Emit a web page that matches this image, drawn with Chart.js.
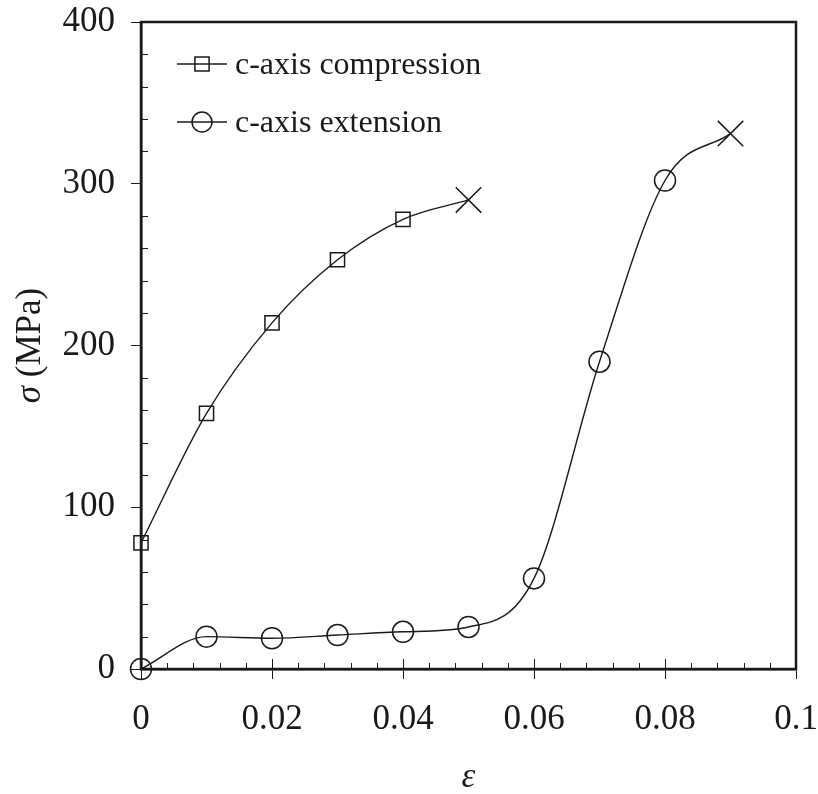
<!DOCTYPE html>
<html>
<head>
<meta charset="utf-8">
<script src="https://cdn.jsdelivr.net/npm/chart.js@4/dist/chart.umd.min.js"></script>
<style>
  html, body { margin: 0; padding: 0; background: #fff; }
  canvas { display: block; }
</style>
</head>
<body>
<canvas id="stressChart" width="818" height="794"></canvas>
<script>
// ========= DATA =========
const compressionStrain = [0, 0.01, 0.02, 0.03, 0.04, 0.05];
const compressionStress = [78, 158, 214, 253, 278, 290];

const extensionStrain = [0, 0.01, 0.02, 0.03, 0.04, 0.05, 0.06, 0.07, 0.08, 0.09];
const extensionStress = [0, 20, 19, 21, 23, 26, 56, 190, 302, 331];

const seriesLabels = ['c-axis compression', 'c-axis extension'];
const xTicks = [0, 0.02, 0.04, 0.06, 0.08, 0.1];
const yTicks = [0, 100, 200, 300, 400];

const INK = '#1a1a1a';
const SERIF = "'Liberation Serif', 'Times New Roman', serif";

// ========= HELPERS =========
function toPoints(xs, ys) {
    return xs.map((x, i) => ({ x, y: ys[i] }));
}

// last point of each curve is the failure mark (X)
function markerStyle(style) {
    return ctx => ctx.dataIndex === ctx.dataset.data.length - 1 ? 'crossRot' : style;
}
function markerRadius(r) {
    return ctx => ctx.dataIndex === ctx.dataset.data.length - 1 ? 18 : r;
}

function lineSeries(label, points, style, r) {
    return {
        label,
        data: points,
        borderColor: INK,
        borderWidth: 1.4,
        backgroundColor: 'rgba(0,0,0,0)',
        pointStyle: markerStyle(style),
        pointRadius: markerRadius(r),
        pointBorderColor: INK,
        pointBackgroundColor: 'rgba(0,0,0,0)',
        pointBorderWidth: 1.5,
        cubicInterpolationMode: 'monotone',
        fill: false,
        clip: false
    };
}

// drop the label overflow padding so layout.padding fixes the frame
function noOverflow(s) {
    s.paddingTop = 0;
    s.paddingBottom = 0;
    s.paddingLeft = 0;
    s.paddingRight = 0;
}

// ========= FRAME, MINOR TICKS, TITLES, LEGEND =========
const framePlugin = {
    id: 'frame',
    afterDraw(chart) {
        const { ctx, chartArea: a, scales } = chart;
        const xs = scales.x, ys = scales.y;
        ctx.save();
        ctx.strokeStyle = INK;

        // box
        ctx.lineWidth = 2.5;
        ctx.strokeRect(a.left, a.top, a.right - a.left, a.bottom - a.top);

        // inward ticks on bottom axis
        ctx.lineWidth = 1;
        for (let i = 1; i < 25; i++) {
            const px = Math.round(xs.getPixelForValue(i * 0.004)) + 0.5;
            const len = i % 5 === 0 ? 10 : 6;
            ctx.beginPath();
            ctx.moveTo(px, a.bottom);
            ctx.lineTo(px, a.bottom - len);
            ctx.stroke();
        }
        // inward minor ticks on left axis
        for (let v = 20; v < 400; v += 20) {
            if (v % 100 === 0) continue;
            const py = Math.round(ys.getPixelForValue(v)) + 0.5;
            ctx.beginPath();
            ctx.moveTo(a.left, py);
            ctx.lineTo(a.left + 7, py);
            ctx.stroke();
        }

        // axis titles
        ctx.fillStyle = INK;
        ctx.textBaseline = 'middle';
        const italic = 'italic 35px ' + SERIF;
        const upright = '35px ' + SERIF;

        // y title: σ (MPa)
        ctx.save();
        ctx.translate(31, (a.top + a.bottom) / 2);
        ctx.rotate(-Math.PI / 2);
        ctx.font = italic;
        const wSig = ctx.measureText('σ').width;
        ctx.font = upright;
        const wRest = ctx.measureText(' (MPa)').width;
        let start = -(wSig + wRest) / 2;
        ctx.textAlign = 'left';
        ctx.font = italic;
        ctx.fillText('σ', start, 0);
        ctx.font = upright;
        ctx.fillText(' (MPa)', start + wSig, 0);
        ctx.restore();

        // x title: ε
        ctx.font = italic;
        ctx.textAlign = 'center';
        ctx.fillText('ε', (a.left + a.right) / 2, 778);

        // legend
        const rows = [64, 122];
        const styles = ['rect', 'circle'];
        ctx.font = '32px ' + SERIF;
        ctx.textAlign = 'left';
        chart.data.datasets.forEach((ds, i) => {
            const y = rows[i];
            ctx.strokeStyle = INK;
            ctx.lineWidth = 1.4;
            ctx.beginPath();
            ctx.moveTo(177, y);
            ctx.lineTo(227, y);
            ctx.stroke();
            ctx.save();
            ctx.lineWidth = 1.5;
            ctx.fillStyle = 'rgba(0,0,0,0)';
            Chart.helpers.drawPoint(ctx, { pointStyle: styles[i], radius: 10, rotation: 0, borderWidth: 1.5 }, 202, y);
            ctx.restore();
            ctx.fillStyle = INK;
            ctx.fillText(ds.label, 235, y + 2);
        });

        ctx.restore();
    }
};

// ========= CHART =========
function initStressChart() {
    const canvas = document.getElementById('stressChart');
    const ctx = canvas.getContext('2d');

    new Chart(ctx, {
        type: 'line',
        data: {
            datasets: [
                lineSeries(seriesLabels[0], toPoints(compressionStrain, compressionStress), 'rect', 10),
                lineSeries(seriesLabels[1], toPoints(extensionStrain, extensionStress), 'circle', 10.5)
            ]
        },
        options: {
            responsive: false,
            animation: false,
            events: [],
            layout: { padding: { top: 22, right: 22, left: 0, bottom: 0 } },
            plugins: {
                legend: { display: false },
                tooltip: { enabled: false }
            },
            scales: {
                x: {
                    type: 'linear',
                    min: 0,
                    max: 0.1,
                    afterFit: s => { s.height = 125; noOverflow(s); },
                    afterBuildTicks: s => { s.ticks = xTicks.map(v => ({ value: v })); },
                    border: { display: true, color: INK, width: 2.5 },
                    grid: { drawOnChartArea: false, drawTicks: true, tickLength: 10, color: INK },
                    ticks: {
                        color: INK,
                        padding: 20,
                        font: { family: SERIF, size: 35 },
                        maxRotation: 0,
                        callback: v => String(Math.round(v * 100) / 100)
                    }
                },
                y: {
                    min: 0,
                    max: 400,
                    afterFit: s => { s.width = 141; noOverflow(s); },
                    afterBuildTicks: s => { s.ticks = yTicks.map(v => ({ value: v })); },
                    border: { display: true, color: INK, width: 2.5 },
                    grid: { drawOnChartArea: false, drawTicks: true, tickLength: 10, color: INK },
                    ticks: {
                        color: INK,
                        padding: 16,
                        font: { family: SERIF, size: 35 }
                    }
                }
            }
        },
        plugins: [framePlugin]
    });
}

document.addEventListener('DOMContentLoaded', initStressChart);
</script>
</body>
</html>
